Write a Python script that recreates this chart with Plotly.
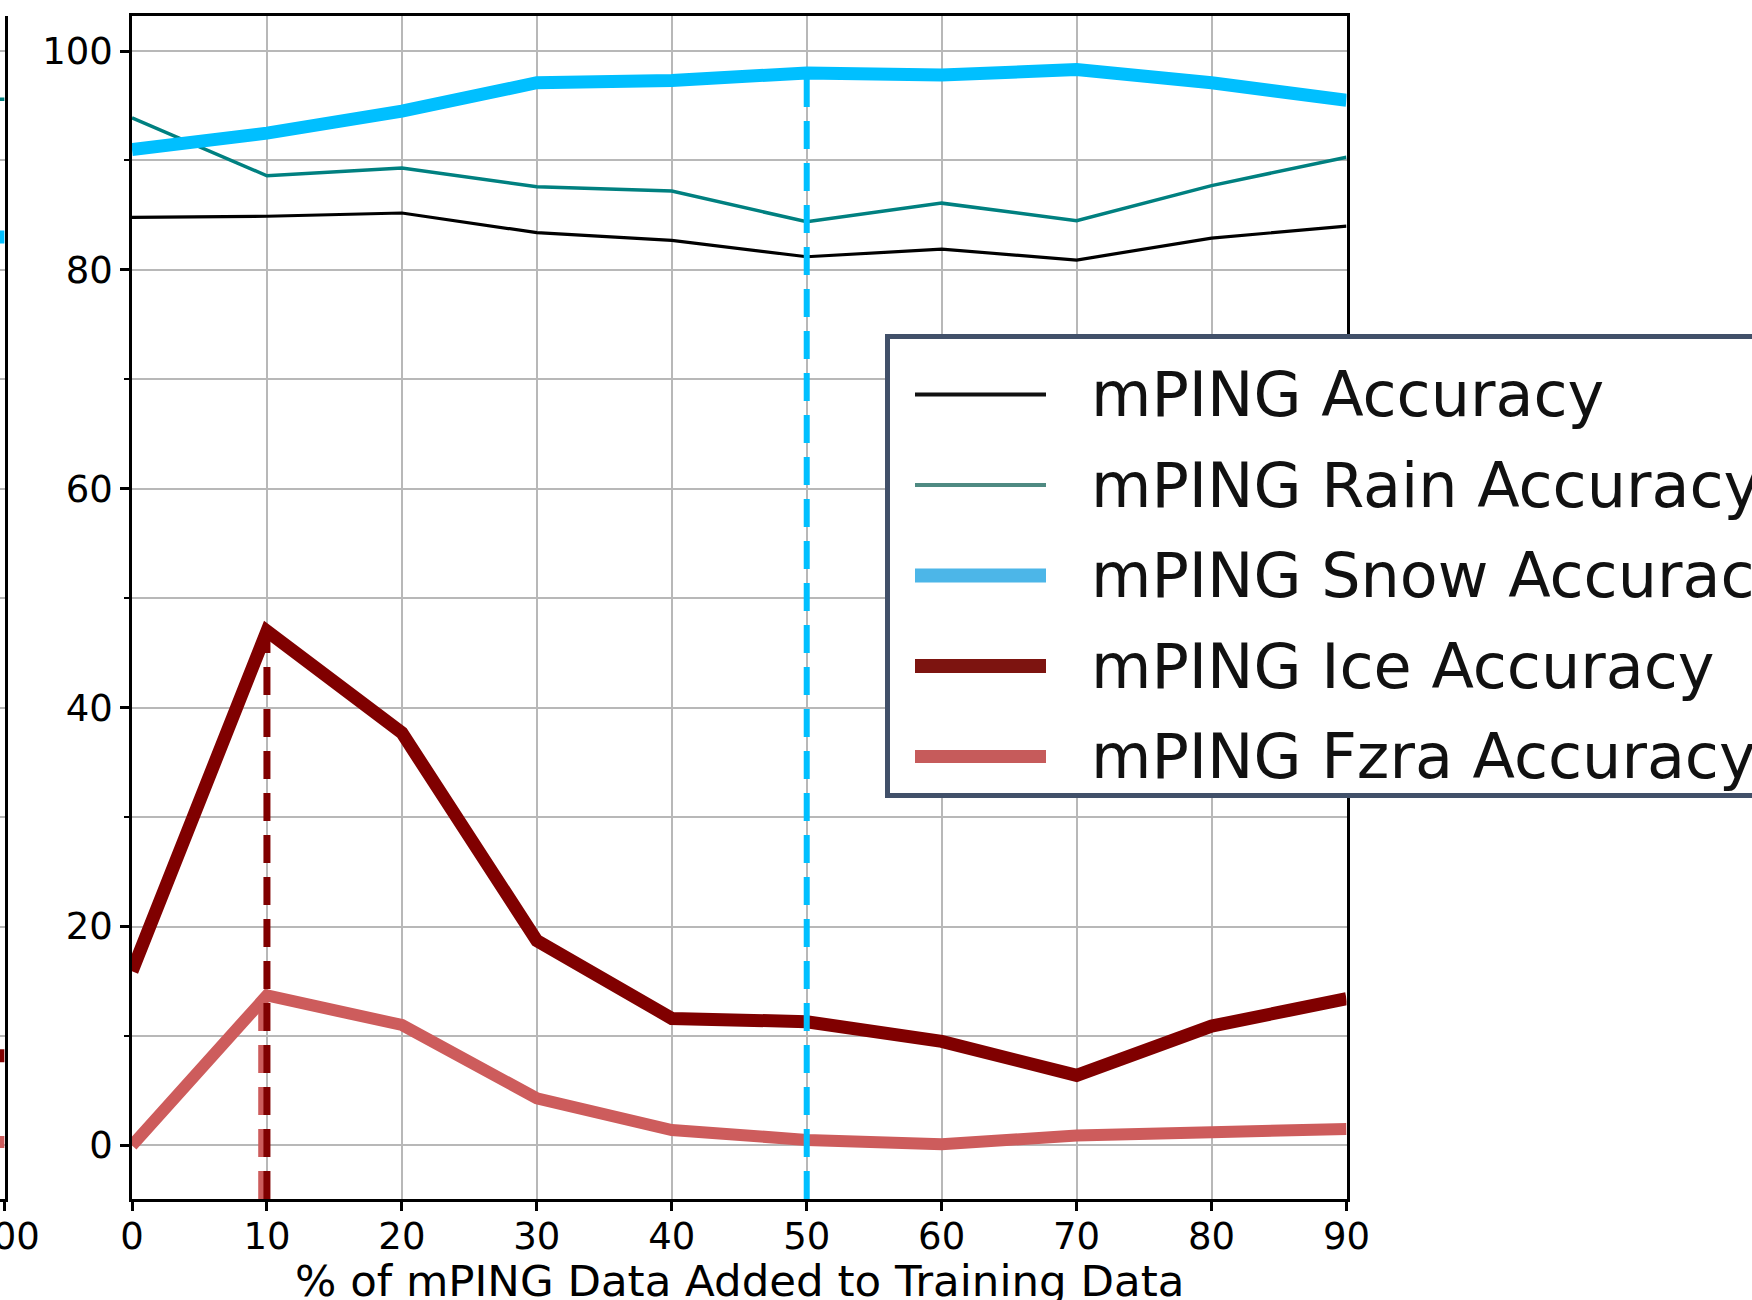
import plotly.graph_objects as go

# ---------------- data ----------------
pct_added = [0, 10, 20, 30, 40, 50, 60, 70, 80, 90]
acc_all = [84.8, 84.9, 85.2, 83.4, 82.7, 81.2, 81.9, 80.9, 82.9, 84.0]
acc_rain = [93.9, 88.6, 89.3, 87.6, 87.2, 84.4, 86.1, 84.5, 87.7, 90.3]
acc_snow = [91.0, 92.5, 94.5, 97.1, 97.3, 98.0, 97.8, 98.3, 97.1, 95.5]
acc_ice = [15.9, 47.0, 37.7, 18.7, 11.6, 11.3, 9.5, 6.4, 10.9, 13.4]
acc_fzra = [0.0, 13.7, 11.0, 4.3, 1.4, 0.5, 0.1, 0.9, 1.2, 1.5]

series_names = ["mPING Accuracy", "mPING Rain Accuracy", "mPING Snow Accuracy",
                "mPING Ice Accuracy", "mPING Fzra Accuracy"]
series_values = [acc_all, acc_rain, acc_snow, acc_ice, acc_fzra]

# best-setting markers (x position, value reached)
best_snow_x, best_snow_y = 50, 98.0
best_ice_x, best_ice_y = 10, 47.0
best_fzra_x, best_fzra_y = 9.65, 13.7

# neighbouring (cut-off) panel: right-most end of its lines
left_x = [90, 100]
left_rain = [95.6, 95.6]
left_snow = [83.0, 83.0]
left_ice = [8.2, 8.2]
left_fzra = [0.3, 0.3]

x_ticks = [0, 10, 20, 30, 40, 50, 60, 70, 80, 90]
y_ticks = [0, 20, 40, 60, 80, 100]
x_title = "% of mPING Data Added to Training Data"

# ---------------- styling ----------------
W, H = 1752, 1300
M_T, M_B = 16, 101
PLOT_H = H - M_T - M_B
Y_RANGE = [-4.9, 103.2]
FONT = "DejaVu Sans"
GRID = "#b8b8b8"
PLOT_L, PLOT_R = 132, 1346.5

colors = ["#000000", "#008080", "#00bfff", "#800000", "#cd5c5c"]
widths = [3.2, 3.5, 13, 13, 12]
legend_colors = ["#111111", "#4f8a82", "#4cb6e8", "#7d1410", "#c65b5b"]
legend_widths = [4, 4, 14, 14, 13]


def px_x(p):
    return p / W


def px_y(p):
    return (H - M_B - p) / PLOT_H


fig = go.Figure()

for name, vals, c, w in zip(series_names, series_values, colors, widths):
    fig.add_trace(go.Scatter(x=pct_added, y=vals, mode="lines", name=name,
                             line=dict(color=c, width=w), showlegend=False,
                             xaxis="x", yaxis="y"))

# dashed "best" markers, from axis bottom up to the value
for bx, by, c, w in [(best_fzra_x, best_fzra_y, "#cd5c5c", 8),
                     (best_ice_x, best_ice_y, "#800000", 7),
                     (best_snow_x, best_snow_y, "#00bfff", 6)]:
    fig.add_trace(go.Scatter(x=[bx, bx], y=[Y_RANGE[0], by], mode="lines",
                             line=dict(color=c, width=w, dash="28px,14px"),
                             showlegend=False, xaxis="x", yaxis="y"))

# neighbouring panel slivers
for vals, c, w in [(left_rain, "#008080", 3.5), (left_snow, "#00bfff", 13),
                   (left_ice, "#800000", 13), (left_fzra, "#cd5c5c", 12)]:
    fig.add_trace(go.Scatter(x=left_x, y=vals, mode="lines",
                             line=dict(color=c, width=w), showlegend=False,
                             xaxis="x2", yaxis="y2"))

axis_common = dict(showline=True, linecolor="black", linewidth=2.5,
                   showgrid=True, gridcolor=GRID, gridwidth=2, zeroline=False,
                   automargin=False,
                   tickfont=dict(family=FONT, size=37, color="black"))

fig.update_layout(
    width=W, height=H,
    margin=dict(l=0, r=0, t=M_T, b=M_B, autoexpand=False),
    paper_bgcolor="white", plot_bgcolor="white",
    showlegend=False,
    font=dict(family=FONT, color="black"),
    xaxis=dict(domain=[px_x(PLOT_L), px_x(PLOT_R)], range=[0, 90], anchor="y",
               tickvals=x_ticks, ticks="outside", ticklen=9, tickwidth=2.5,
               tickcolor="black", mirror=True, ticklabelstandoff=-6,
               **axis_common),
    yaxis=dict(domain=[0, 1], range=Y_RANGE, anchor="x",
               tickvals=y_ticks, ticks="outside", ticklen=9, tickwidth=2.5,
               tickcolor="black", mirror=True,
               minor=dict(dtick=10, tick0=0, ticks="outside", ticklen=5, tickwidth=2,
                          tickcolor="black", showgrid=True, gridcolor=GRID, gridwidth=2),
               **axis_common),
    xaxis2=dict(domain=[0, px_x(4.6)], range=[99.6, 100], anchor="y2",
                tickvals=[100], ticks="outside", ticklen=9, tickwidth=2.5,
                tickcolor="black", showline=True, linecolor="black", linewidth=2.5,
                showgrid=False, zeroline=False, automargin=False,
                ticklabeloverflow="allow", ticklabelstandoff=-6,
                tickfont=dict(family=FONT, size=37, color="black")),
    yaxis2=dict(domain=[0, 1], range=Y_RANGE, anchor="x2", side="right",
                showline=True, linecolor="black", linewidth=2.5,
                showticklabels=False, ticks="", dtick=10, tick0=0, automargin=False,
                showgrid=True, gridcolor=GRID, gridwidth=2, zeroline=False),
)

# ---------------- legend (large swatches, box cut by page edge) ----------------
shapes = [dict(type="rect", xref="paper", yref="paper",
               x0=px_x(887.5), x1=px_x(1800), y0=px_y(795.5), y1=px_y(336.5),
               line=dict(color="#415069", width=5), fillcolor="white", layer="above")]
annotations = [dict(text=x_title, xref="paper", yref="paper",
                    x=px_x((PLOT_L + PLOT_R) / 2), y=px_y(1281),
                    xanchor="center", yanchor="middle", showarrow=False,
                    font=dict(family=FONT, size=43.5, color="black"))]
row_y = [394.5, 485, 575.5, 666, 756.5]
for name, c, w, ry in zip(series_names, legend_colors, legend_widths, row_y):
    shapes.append(dict(type="line", xref="paper", yref="paper",
                       x0=px_x(915), x1=px_x(1046), y0=px_y(ry), y1=px_y(ry),
                       line=dict(color=c, width=w), layer="above"))
    annotations.append(dict(text=name, xref="paper", yref="paper",
                            x=px_x(1089), y=px_y(ry), xanchor="left", yanchor="middle",
                            showarrow=False, font=dict(family=FONT, size=62, color="#111111")))

fig.update_layout(shapes=shapes, annotations=annotations)

fig.write_html("out.html")
